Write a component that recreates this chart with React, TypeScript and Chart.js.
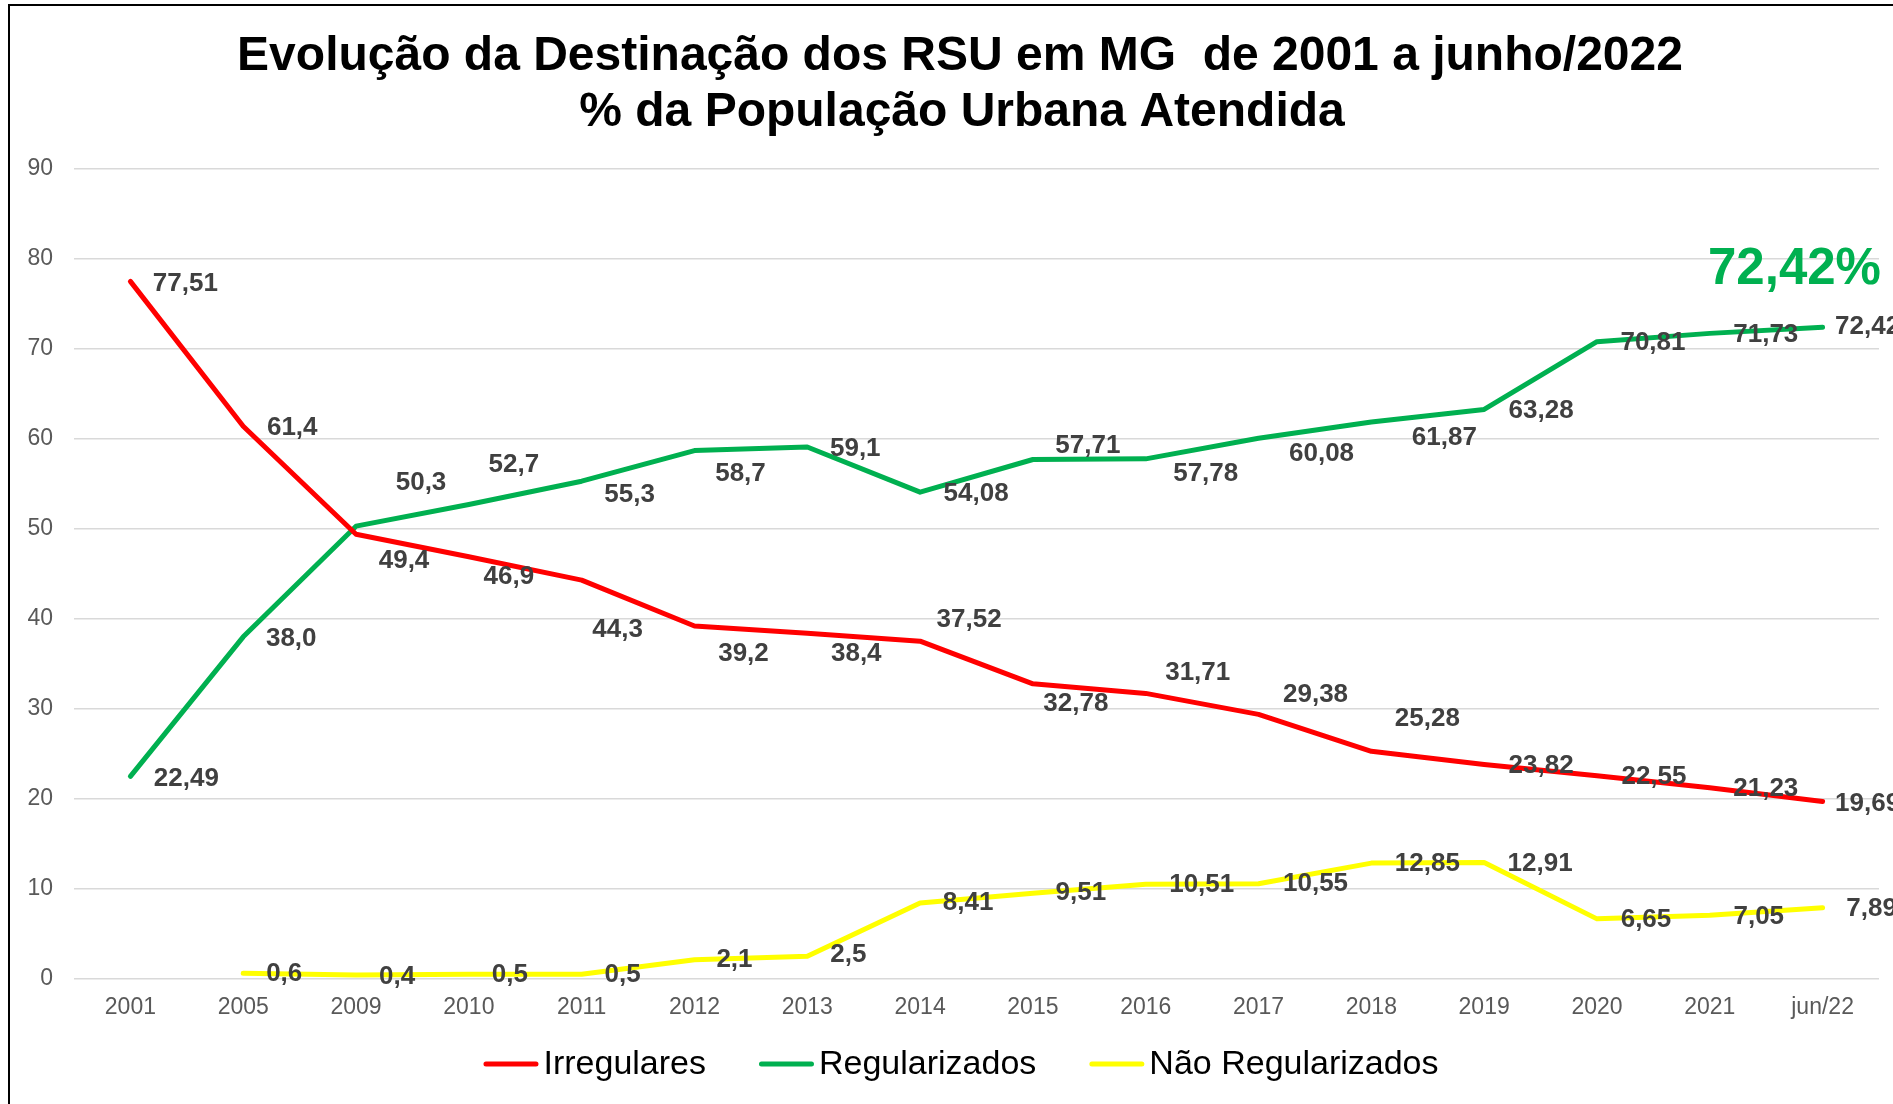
import React, { useEffect, useRef } from "react";
import { Chart, registerables } from "chart.js";

Chart.register(...registerables);

const FONT = '"Liberation Sans", Arial, Helvetica, sans-serif';

const titleLines = [
  "Evolução da Destinação dos RSU em MG  de 2001 a junho/2022",
  "% da População Urbana Atendida",
];

const categories = [
  "2001", "2005", "2009", "2010", "2011", "2012", "2013", "2014",
  "2015", "2016", "2017", "2018", "2019", "2020", "2021", "jun/22",
];

const seriesNames = ["Irregulares", "Regularizados", "Não Regularizados"];

const irregulares = [
  "77,51", "61,4", "49,4", "46,9", "44,3", "39,2", "38,4", "37,52",
  "32,78", "31,71", "29,38", "25,28", "23,82", "22,55", "21,23", "19,69",
];
const regularizados = [
  "22,49", "38,0", "50,3", "52,7", "55,3", "58,7", "59,1", "54,08",
  "57,71", "57,78", "60,08", "61,87", "63,28", "70,81", "71,73", "72,42",
];
const naoRegularizados: (string | null)[] = [
  null, "0,6", "0,4", "0,5", "0,5", "2,1", "2,5", "8,41",
  "9,51", "10,51", "10,55", "12,85", "12,91", "6,65", "7,05", "7,89",
];

const yMin = 0;
const yMax = 90;
const yStep = 10;

// label offsets (px) relative to each point
const irregLabelDx = [55, 49, 48, 40, 36, 49, 49, 49, 43, 52, 57, 56, 57, 57, 56, 45];
const irregLabelDy = [2, 2, 27, 20, 50, 28, 21, -21, 20, -21, -20, -32, 1, 1, 1, 2];
const regLabelDx = [56, 48, 65, 45, 48, 46, 48, 56, 55, 60, 63, 73, 57, 56, 56, 45];
const regLabelDy = [2, 2, -43, -40, 14, 23, 2, 2, -14, 15, 16, 16, 1, 1, 1, 0];
const naoLabelDx = [0, 41, 41, 41, 41, 40, 41, 48, 48, 56, 57, 56, 56, 49, 49, 49];
const naoLabelDy = [0, 1, 2, 1, 1, 0, -1, 0, 0, 1, 0, 1, 1, 1, 2, 1];

const colors = ["#FF0000", "#00B050", "#FFFF00"];

const toNum = (s: string | null) => (s == null ? null : parseFloat(s.replace(",", ".")));

const labelStrings = [irregulares, regularizados, naoRegularizados];
const labelDx = [irregLabelDx, regLabelDx, naoLabelDx];
const labelDy = [irregLabelDy, regLabelDy, naoLabelDy];

const customPlugin = {
  id: "customDraw",
  beforeDraw(chart: any) {
    const { ctx, width, height } = chart;
    ctx.save();
    ctx.fillStyle = "#ffffff";
    ctx.fillRect(0, 0, width, height);
    ctx.strokeStyle = "#000000";
    ctx.lineWidth = 2;
    ctx.beginPath();
    ctx.moveTo(9, height + 5);
    ctx.lineTo(9, 5);
    ctx.lineTo(width + 5, 5);
    ctx.stroke();
    ctx.restore();
  },
  afterDatasetsDraw(chart: any) {
    const { ctx } = chart;
    ctx.save();
    ctx.font = `bold 26px ${FONT}`;
    ctx.fillStyle = "#404040";
    ctx.textAlign = "center";
    ctx.textBaseline = "middle";
    chart.data.datasets.forEach((ds: any, di: number) => {
      const meta = chart.getDatasetMeta(di);
      meta.data.forEach((pt: any, i: number) => {
        const txt = labelStrings[di][i];
        if (txt == null) return;
        ctx.fillText(txt, pt.x + labelDx[di][i], pt.y + labelDy[di][i]);
      });
    });
    ctx.restore();
  },
  afterDraw(chart: any) {
    const { ctx } = chart;
    ctx.save();
    // title
    ctx.fillStyle = "#000000";
    ctx.font = `bold 48px ${FONT}`;
    ctx.textAlign = "center";
    ctx.textBaseline = "middle";
    ctx.fillText(titleLines[0], 960, 57);
    ctx.fillText(titleLines[1], 962, 113);

    // highlight
    const last = regularizados[regularizados.length - 1];
    ctx.fillStyle = colors[1];
    ctx.font = `bold 51px ${FONT}`;
    ctx.textAlign = "left";
    ctx.textBaseline = "alphabetic";
    ctx.fillText(last + "%", 1708, 284);

    // legend
    ctx.font = `34px ${FONT}`;
    ctx.textBaseline = "middle";
    const lineW = 55;
    const gapLT = 5;
    const gapItems = 53;
    const widths = chart.data.datasets.map(
      (ds: any) => lineW + gapLT + ctx.measureText(ds.label).width
    );
    const total = widths.reduce((a: number, b: number) => a + b, 0) + gapItems * (widths.length - 1);
    let x = 961 - total / 2;
    const y = 1064;
    chart.data.datasets.forEach((ds: any, i: number) => {
      ctx.strokeStyle = ds.borderColor;
      ctx.lineWidth = 5;
      ctx.lineCap = "round";
      ctx.beginPath();
      ctx.moveTo(x + 2.5, y);
      ctx.lineTo(x + lineW - 2.5, y);
      ctx.stroke();
      ctx.fillStyle = "#000000";
      ctx.fillText(ds.label, x + lineW + gapLT, y + 1);
      x += widths[i] + gapItems;
    });
    ctx.restore();
  },
};

export default function App() {
  const ref = useRef<HTMLCanvasElement | null>(null);
  useEffect(() => {
    if (!ref.current) return;
    const series = [irregulares, regularizados, naoRegularizados];
    const chart = new Chart(ref.current, {
      type: "line",
      data: {
        labels: categories,
        datasets: series.map((s, i) => ({
          label: seriesNames[i],
          data: s.map(toNum),
          borderColor: colors[i],
          backgroundColor: colors[i],
          borderWidth: 5,
          pointRadius: 0,
          pointHoverRadius: 0,
          tension: 0,
          borderCapStyle: "round",
          borderJoinStyle: "round",
          fill: false,
        })) as any,
      },
      options: {
        responsive: false,
        animation: false,
        devicePixelRatio: 1,
        layout: { padding: { left: 0, right: 14, top: 169, bottom: 0 } },
        plugins: {
          legend: { display: false },
          title: { display: false },
          tooltip: { enabled: false },
        },
        scales: {
          x: {
            type: "category",
            offset: true,
            grid: { display: false, drawTicks: false },
            border: { display: false },
            ticks: {
              color: "#595959",
              font: { family: FONT, size: 23 },
              padding: 15.5,
              maxRotation: 0,
              autoSkip: false,
            },
            afterFit(scale: any) {
              scale.height = 125.3;
            },
          },
          y: {
            min: yMin,
            max: yMax,
            grid: { color: "#D9D9D9", lineWidth: 1.5, drawTicks: false },
            border: { display: false },
            ticks: {
              stepSize: yStep,
              color: "#595959",
              font: { family: FONT, size: 23 },
              padding: 21,
            },
            afterFit(scale: any) {
              scale.width = 74;
            },
          },
        },
      } as any,
      plugins: [customPlugin],
    });
    return () => chart.destroy();
  }, []);
  return (
    <div
      style={{
        position: "fixed",
        left: 0,
        top: 0,
        width: 1893,
        height: 1104,
        overflow: "hidden",
        background: "#fff",
      }}
    >
      <canvas ref={ref} width={1893} height={1104} style={{ display: "block" }} />
    </div>
  );
}
